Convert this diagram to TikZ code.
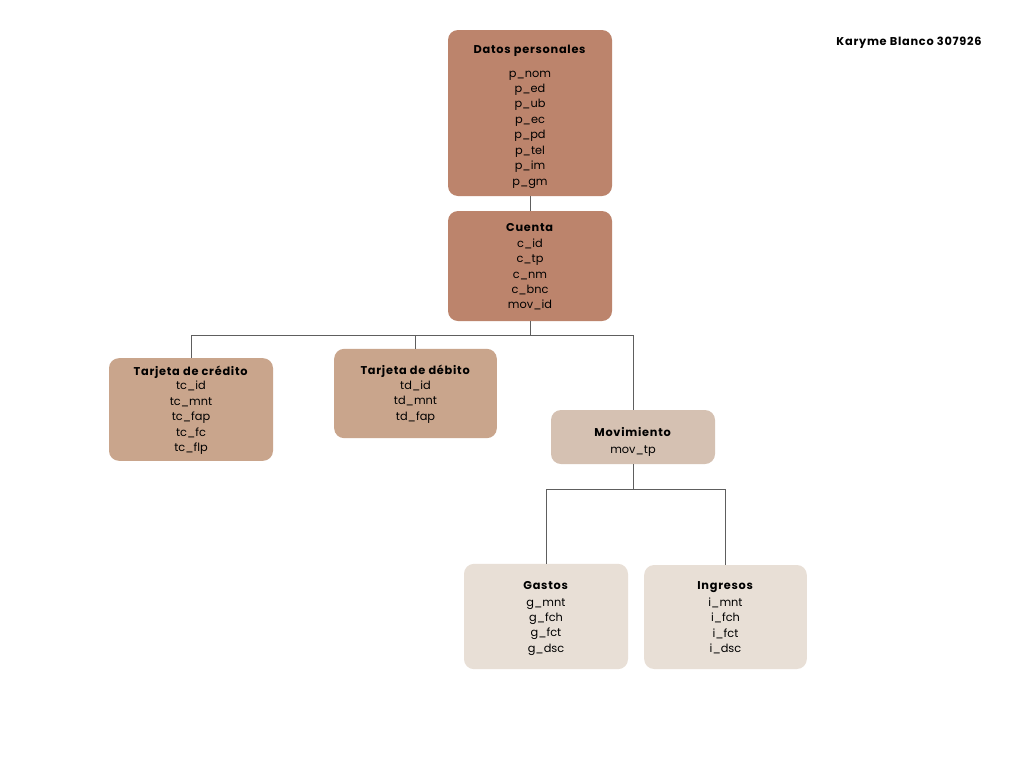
\documentclass[tikz,border=0pt]{standalone}
\usepackage{fontspec}
\setmainfont{Poppins}[BoldFeatures={LetterSpace=6.5}]
\usepackage{tikz}
\usetikzlibrary{positioning,calc}
\definecolor{cafeo}{HTML}{BC846C}
\definecolor{cafem}{HTML}{C9A58C}
\definecolor{cafec}{HTML}{D5C1B2}
\definecolor{crema}{HTML}{E8DFD6}
\definecolor{linea}{HTML}{5E5E5E}
\tikzset{
	tabla/.style = {rectangle, rounded corners=7.5pt, align=center, inner sep=0pt, text=black, font=\fontsize{8.5}{11.6}\selectfont, minimum width=123pt},
	liga/.style = {draw=linea, line width=0.75pt},
	tmp/.style  = {coordinate}
}

\begin{document}
\begin{tikzpicture}[x=0.75pt,y=-0.75pt]
    \useasboundingbox (0,0) rectangle (1024,768);
    \fill[white] (0,0) rectangle (1024,768);

    \node [tabla, fill=cafeo, minimum height=124.5pt] (datos) at (530,113) {\textbf{Datos personales}\\[6pt] p\_nom\\ p\_ed\\ p\_ub\\ p\_ec\\ p\_pd\\ p\_tel\\ p\_im\\ p\_gm\\[-15pt]};
    \node [tabla, fill=cafeo, minimum height=82.5pt] (cuenta) at (530,266) {\textbf{Cuenta}\\ c\_id\\ c\_tp\\ c\_nm\\ c\_bnc\\ mov\_id\\[-12pt]};

    \node [tabla, fill=cafem, minimum height=77pt] (credito) at (191,409.5) {\textbf{Tarjeta de crédito}\\[-0.5pt] tc\_id\\ tc\_mnt\\ tc\_fap\\ tc\_fc\\ tc\_flp\\[-10.5pt]};
    \node [tabla, fill=cafem, minimum height=67pt, minimum width=122pt] (debito) at (415.5,393.5) {\textbf{Tarjeta de débito}\\[-0.5pt] td\_id\\ td\_mnt\\ td\_fap\\[-10.5pt]};
    \node [tabla, fill=cafec, minimum height=40.5pt] (movimiento) at (633,437) {\textbf{Movimiento}\\[0.8pt] mov\_tp\\[-16.5pt]};

    \node [tabla, fill=crema, minimum height=79pt] (gastos) at (546,616.5) {\textbf{Gastos}\\[1pt] g\_mnt\\ g\_fch\\ g\_fct\\ g\_dsc\\[-12pt]};
    \node [tabla, fill=crema, minimum height=78pt, minimum width=122pt] (ingresos) at (725.5,617) {\textbf{Ingresos}\\[1pt] i\_mnt\\ i\_fch\\ i\_fct\\ i\_dsc\\[-12pt]};

    \node [font=\fontsize{8.5}{10}\selectfont\bfseries] (autora) at (909,43) {Karyme Blanco 307926};

    \coordinate (bus1) at (530,335);
    \coordinate (bus2) at (633,489);

    \draw [liga] (datos) -- (cuenta);
    \draw [liga] (cuenta.south) -- (cuenta.south |- bus1);
    \draw [liga] (credito.north) |- (movimiento.north |- bus1) -- (movimiento.north);
    \draw [liga] (debito.north) -- (debito.north |- bus1);
    \draw [liga] (movimiento.south) -- (bus2);
    \draw [liga] (gastos.north) |- (ingresos.north |- bus2) -- (ingresos.north);
  \end{tikzpicture}
\end{document}
